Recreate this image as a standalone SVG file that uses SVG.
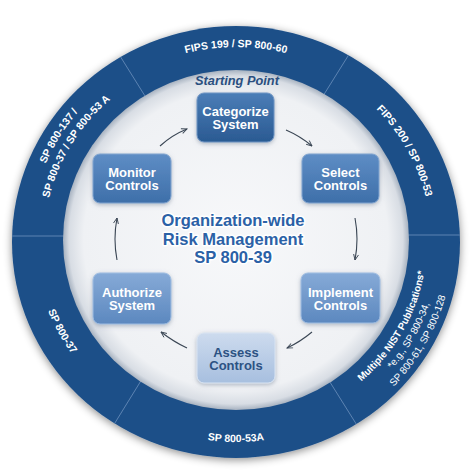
<svg xmlns="http://www.w3.org/2000/svg" width="474" height="474" viewBox="0 0 474 474">
<defs>
<style>
.rt{font-family:"Liberation Sans",Arial,sans-serif;font-weight:bold;font-size:10.5px;fill:#ffffff}
.rn{font-weight:normal}
.node text{font-family:"Liberation Sans",Arial,sans-serif;font-weight:bold;font-size:13px;text-anchor:middle;fill:#ffffff}
.node rect{stroke-width:1;filter:url(#ns)}
.ctr{font-family:"Liberation Sans",Arial,sans-serif;font-weight:bold;font-size:16.5px;text-anchor:middle;fill:#2b61a6;stroke:#ffffff;stroke-width:3;stroke-linejoin:round;paint-order:stroke}
.start{font-family:"Liberation Sans",Arial,sans-serif;font-weight:bold;font-style:italic;font-size:12.8px;text-anchor:middle;fill:#2a4f80}
#connectors path{fill:none;stroke:#3a4654;stroke-width:1.1;marker-end:url(#ah)}
.div{stroke:#5d84b2;stroke-width:1}
</style>
<filter id="ds" x="-10%" y="-10%" width="120%" height="120%"><feDropShadow dx="0" dy="2" stdDeviation="4" flood-color="#000000" flood-opacity="0.45"/></filter>
<filter id="ns" x="-20%" y="-20%" width="140%" height="140%"><feDropShadow dx="0" dy="1.5" stdDeviation="2" flood-color="#6a7a90" flood-opacity="0.5"/></filter>
<radialGradient id="inner" cx="50%" cy="50%" r="50%">
<stop offset="0" stop-color="#f7f8fa"/><stop offset="0.88" stop-color="#eff1f4"/><stop offset="0.965" stop-color="#d8dde4"/><stop offset="1" stop-color="#a7b2c0"/>
</radialGradient>
<linearGradient id="g1" x1="0" y1="0" x2="0" y2="1"><stop offset="0" stop-color="#4b7db7"/><stop offset="1" stop-color="#2a5a92"/></linearGradient>
<linearGradient id="g2" x1="0" y1="0" x2="0" y2="1"><stop offset="0" stop-color="#5e8dc5"/><stop offset="1" stop-color="#3e6fa9"/></linearGradient>
<linearGradient id="g3" x1="0" y1="0" x2="0" y2="1"><stop offset="0" stop-color="#86aad7"/><stop offset="1" stop-color="#5c88bf"/></linearGradient>
<linearGradient id="g4" x1="0" y1="0" x2="0" y2="1"><stop offset="0" stop-color="#cddbee"/><stop offset="1" stop-color="#a7bfdf"/></linearGradient>
<clipPath id="ringclip"><ellipse cx="236" cy="242" rx="224" ry="216"/></clipPath>
<marker id="ah" viewBox="0 0 10 10" refX="9" refY="5" markerWidth="7" markerHeight="7" orient="auto" markerUnits="userSpaceOnUse"><path d="M1,1.5 L9,5 L1,8.5" fill="none" stroke="#3a4654" stroke-width="1.3"/></marker>
<path id="pTop" d="M37,241 A199,194 0 0 1 435,241"/>
<path id="pR" d="M41,241 A195,190 0 0 1 431,241"/>
<path id="pUL1" d="M30,241 A206,201 0 0 1 442,241"/>
<path id="pUL2" d="M44,241 A192,187 0 0 1 428,241"/>
<path id="pB" d="M30,241 A206,201 0 0 0 442,241"/>
<path id="pL" d="M35,241 A201,196 0 0 0 437,241"/>
<path id="pN1" d="M45,241 A191,186 0 0 0 427,241"/>
<path id="pN2" d="M32,241 A204,199 0 0 0 440,241"/>
<path id="pN3" d="M19,241 A217,212 0 0 0 453,241"/>
</defs>

<g id="ring">
<ellipse cx="236" cy="242" rx="224" ry="216" fill="#1f5088" filter="url(#ds)"/>
<g clip-path="url(#ringclip)" class="div">
<line x1="105" y1="32" x2="150" y2="104"/>
<line x1="363" y1="32" x2="318" y2="104"/>
<line x1="5" y1="236" x2="80" y2="236"/>
<line x1="390" y1="235" x2="470" y2="235"/>
<line x1="105" y1="439" x2="147" y2="371"/>
<line x1="365" y1="438" x2="323" y2="371"/>
</g>
<ellipse cx="236" cy="240" rx="173" ry="170" fill="url(#inner)"/>
<text class="rt"><textPath href="#pTop" startOffset="50%" text-anchor="middle">FIPS 199 / SP 800-60</textPath></text>
<text class="rt"><textPath href="#pR" startOffset="84.2%" text-anchor="middle">FIPS 200 / SP 800-53</textPath></text>
<text class="rt"><textPath href="#pUL1" startOffset="17.2%" text-anchor="middle">SP 800-137 /</textPath></text>
<text class="rt"><textPath href="#pUL2" startOffset="17.2%" text-anchor="middle">SP 800-37 / SP 800-53 A</textPath></text>
<text class="rt"><textPath href="#pL" startOffset="15.4%" text-anchor="middle">SP 800-37</textPath></text>
<text class="rt"><textPath href="#pB" startOffset="50%" text-anchor="middle">SP 800-53A</textPath></text>
<text class="rt" style="font-size:10px"><textPath href="#pN1" startOffset="83.9%" text-anchor="middle">Multiple NIST Publications*</textPath></text>
<text class="rt rn" style="font-size:10px"><textPath href="#pN2" startOffset="83.9%" text-anchor="middle">*e.g., SP 800-34,</textPath></text>
<text class="rt rn" style="font-size:10px"><textPath href="#pN3" startOffset="83.9%" text-anchor="middle">SP 800-61, SP 800-128</textPath></text>
</g>

<g id="center-label">
<text class="ctr" x="233" y="226">Organization-wide</text>
<text class="ctr" x="233" y="245">Risk Management</text>
<text class="ctr" x="233" y="263">SP 800-39</text>
</g>

<text id="starting-point" class="start" x="237" y="85">Starting Point</text>

<g id="connectors">
<path d="M160,146 Q172,135 187,129"/>
<path d="M286,130 Q300,136 312,146"/>
<path d="M355,218 Q359,239 355,260"/>
<path d="M312,332 Q300,342 287,348"/>
<path d="M187,348 Q174,342 161,332"/>
<path d="M117,260 Q113,239 117,218"/>
</g>

<g id="categorize" class="node">
<rect x="197" y="93" width="77" height="49" rx="7" fill="url(#g1)" stroke="#6f95c4"/>
<text x="235.5" y="116">Categorize</text><text x="235.5" y="129">System</text>
</g>
<g id="select" class="node">
<rect x="302" y="154" width="77" height="49" rx="7" fill="url(#g2)" stroke="#80a4d0"/>
<text x="340.5" y="177">Select</text><text x="340.5" y="190">Controls</text>
</g>
<g id="implement" class="node">
<rect x="301" y="273" width="79" height="50" rx="7" fill="url(#g3)" stroke="#9fbde2"/>
<text x="340.5" y="296.5">Implement</text><text x="340.5" y="309.5">Controls</text>
</g>
<g id="assess" class="node">
<rect x="197" y="333" width="78" height="50" rx="7" fill="url(#g4)" stroke="#d9e4f2"/>
<text x="236" y="356.5" style="fill:#2c5283">Assess</text><text x="236" y="369.5" style="fill:#2c5283">Controls</text>
</g>
<g id="authorize" class="node">
<rect x="93" y="273" width="78" height="51" rx="7" fill="url(#g3)" stroke="#9fbde2"/>
<text x="132" y="297">Authorize</text><text x="132" y="310">System</text>
</g>
<g id="monitor" class="node">
<rect x="93" y="154" width="78" height="49" rx="7" fill="url(#g2)" stroke="#80a4d0"/>
<text x="132" y="177">Monitor</text><text x="132" y="190">Controls</text>
</g>
</svg>
